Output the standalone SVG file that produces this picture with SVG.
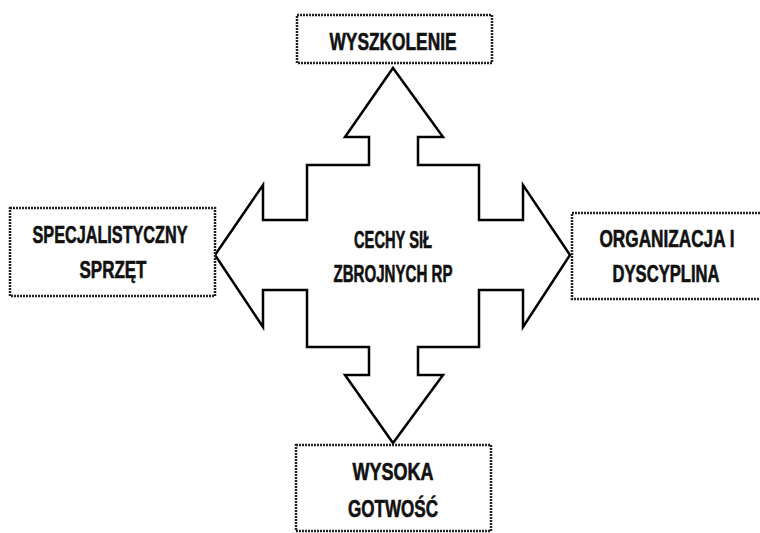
<svg xmlns="http://www.w3.org/2000/svg" width="760" height="533" viewBox="0 0 760 533">
<style>
.box{fill:#fff;stroke:#222;stroke-width:2.5;stroke-dasharray:2 1}
.arrow{fill:#fff;stroke:#000;stroke-width:2.5;stroke-linejoin:miter}
text{font-family:"Liberation Sans",Arial,sans-serif;font-weight:bold;font-size:19px;fill:#111;stroke:#111;stroke-width:0.5;text-anchor:middle}
</style>
<rect width="760" height="533" fill="#fff"/>
<g id="connectors">
<polygon class="arrow" points="393,68 443,137 418,137 418,165 479,165 479,220 523,220 523,185 570,255 523,327 523,290 479,290 479,347 418,347 418,375 443,375 393,443 345,375 369,375 369,347 307,347 307,290 263,290 263,327 215,255 263,185 263,220 307,220 307,165 369,165 369,137 345,137"/>
</g>
<g id="center">
<text transform="translate(393,248) scale(1,1.3)" textLength="78" lengthAdjust="spacingAndGlyphs">CECHY SIŁ</text>
<text transform="translate(393,282) scale(1,1.3)" textLength="119" lengthAdjust="spacingAndGlyphs">ZBROJNYCH RP</text>
</g>
<g id="top">
<rect class="box" x="297" y="15" width="195" height="48"/>
<text transform="translate(393,50) scale(1,1.3)" textLength="127" lengthAdjust="spacingAndGlyphs">WYSZKOLENIE</text>
</g>
<g id="left">
<rect class="box" x="10" y="208" width="205" height="88"/>
<text transform="translate(110,243) scale(1,1.3)" textLength="155" lengthAdjust="spacingAndGlyphs">SPECJALISTYCZNY</text>
<text transform="translate(113,278) scale(1,1.3)" textLength="67" lengthAdjust="spacingAndGlyphs">SPRZĘT</text>
</g>
<g id="right">
<path class="box" d="M760,213 H572 V299 H760"/>
<text transform="translate(667,247) scale(1,1.3)" textLength="135" lengthAdjust="spacingAndGlyphs">ORGANIZACJA I</text>
<text transform="translate(666,282) scale(1,1.3)" textLength="107" lengthAdjust="spacingAndGlyphs">DYSCYPLINA</text>
</g>
<g id="bottom">
<rect class="box" x="296" y="445" width="195" height="86"/>
<text transform="translate(393,480) scale(1,1.3)" textLength="81" lengthAdjust="spacingAndGlyphs">WYSOKA</text>
<text transform="translate(393,517) scale(1,1.3)" textLength="90" lengthAdjust="spacingAndGlyphs">GOTWOŚĆ</text>
</g>
</svg>
